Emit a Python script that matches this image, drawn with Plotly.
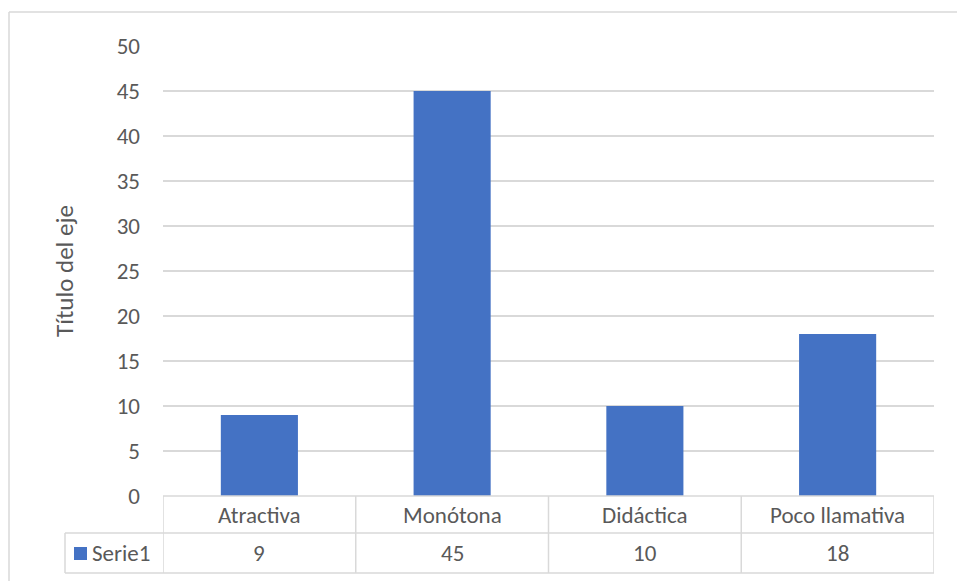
import plotly.graph_objects as go

# Chart data
categorias = ["Atractiva", "Monótona", "Didáctica", "Poco llamativa"]
serie1 = [9, 45, 10, 18]
nombre_serie = "Serie1"
titulo_eje = "Título del eje"

W, H = 957, 581
FONT = "Carlito, Lato, Calibri, sans-serif"
TXT = "#595959"
LINEA = "#D9D9D9"
AZUL = "#4472C4"
FS = 23

# plot-area geometry in pixels
px_left, px_right = 163, 934
py_top, py_bottom = 46, 496
row1_bottom, row2_bottom = 533, 573
legend_left = 65


def fx(px):
    return px / W


def fy(py):
    return 1 - py / H


fig = go.Figure(
    go.Bar(
        x=categorias,
        y=serie1,
        marker=dict(color=AZUL, line=dict(width=0)),
        name=nombre_serie,
        showlegend=False,
    )
)

shapes = []


def hline(y, x0, x1):
    shapes.append(dict(type="line", xref="paper", yref="paper",
                       x0=fx(x0), x1=fx(x1), y0=fy(y), y1=fy(y),
                       line=dict(color=LINEA, width=1.5)))


def vline_paper(x, y0, y1):
    shapes.append(dict(type="line", xref="paper", yref="paper",
                       x0=fx(x), x1=fx(x), y0=fy(y0), y1=fy(y1),
                       line=dict(color=LINEA, width=1.5)))


# data table grid
hline(py_bottom, px_left, px_right)
hline(row1_bottom, legend_left, px_right)
hline(row2_bottom, legend_left, px_right)
vline_paper(legend_left, row1_bottom, row2_bottom)
for i in range(len(categorias) + 1):
    shapes.append(dict(type="line", xref="x", yref="paper",
                       x0=i - 0.5, x1=i - 0.5, y0=fy(py_bottom), y1=fy(row2_bottom),
                       line=dict(color=LINEA, width=1.5)))

# legend key square
shapes.append(dict(type="rect", xref="paper", yref="paper",
                   x0=fx(74), x1=fx(87), y0=fy(560), y1=fy(547),
                   fillcolor=AZUL, line=dict(width=0)))

# chart-area border (left and top edges)
shapes.append(dict(type="line", xref="paper", yref="paper",
                   x0=fx(9), x1=fx(9), y0=0, y1=fy(12),
                   line=dict(color=LINEA, width=1.5)))
shapes.append(dict(type="line", xref="paper", yref="paper",
                   x0=fx(9), x1=1, y0=fy(12), y1=fy(12),
                   line=dict(color=LINEA, width=1.5)))

annotations = []
for cat, val in zip(categorias, serie1):
    annotations.append(dict(x=cat, xref="x", y=fy((py_bottom + row1_bottom) / 2), yref="paper",
                            text=cat, showarrow=False, xanchor="center", yanchor="middle",
                            font=dict(family=FONT, size=FS, color=TXT)))
    annotations.append(dict(x=cat, xref="x", y=fy((row1_bottom + row2_bottom) / 2), yref="paper",
                            text=str(val), showarrow=False, xanchor="center", yanchor="middle",
                            font=dict(family=FONT, size=FS, color=TXT)))

annotations.append(dict(x=fx(90), xref="paper", y=fy((row1_bottom + row2_bottom) / 2), yref="paper",
                        text=nombre_serie, showarrow=False, xanchor="left", yanchor="middle",
                        font=dict(family=FONT, size=FS, color=TXT)))

annotations.append(dict(x=fx(64), xref="paper", y=fy((py_top + py_bottom) / 2), yref="paper",
                        text=titulo_eje, showarrow=False, textangle=-90,
                        xanchor="center", yanchor="middle",
                        font=dict(family=FONT, size=25, color=TXT)))

fig.update_layout(
    width=W, height=H,
    margin=dict(l=0, r=0, t=0, b=0, pad=0, autoexpand=False),
    paper_bgcolor="white", plot_bgcolor="white",
    bargap=0.6,
    shapes=shapes,
    annotations=annotations,
    xaxis=dict(domain=[fx(px_left), fx(px_right)], range=[-0.5, len(categorias) - 0.5],
               showticklabels=False, showgrid=False, zeroline=False, showline=False,
               automargin=False, fixedrange=True),
    yaxis=dict(domain=[fy(py_bottom), fy(py_top)], range=[0, 50], dtick=5,
               showgrid=True, gridcolor=LINEA, gridwidth=1.5,
               zeroline=False, showline=False, ticks="", automargin=False,
               ticklabelstandoff=22,
               tickfont=dict(family=FONT, size=FS, color=TXT)),
)

fig.write_html("out.html")
